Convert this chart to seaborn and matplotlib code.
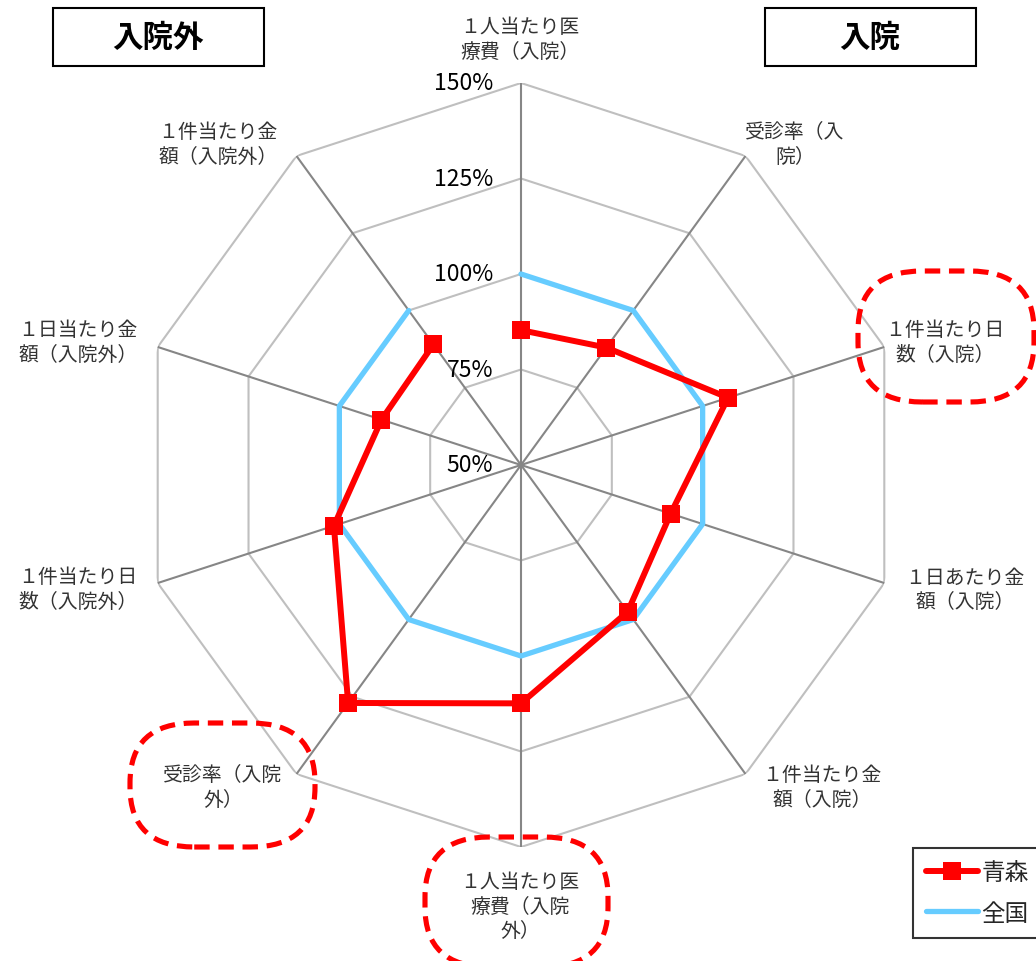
import numpy as np
import pandas as pd
import matplotlib
matplotlib.use("Agg")
import matplotlib.pyplot as plt
from matplotlib.patches import FancyBboxPatch
import seaborn as sns

# 軸ラベル（時計回り、上から）
categories = [
    "１人当たり医\n療費（入院）",
    "受診率（入\n院）",
    "１件当たり日\n数（入院）",
    "１日あたり金\n額（入院）",
    "１件当たり金\n額（入院）",
    "１人当たり医\n療費（入院\n外）",
    "受診率（入院\n外）",
    "１件当たり日\n数（入院外）",
    "１日当たり金\n額（入院外）",
    "１件当たり金\n額（入院外）",
]
aomori = [85.3, 88.0, 107.0, 91.2, 97.5, 112.4, 127.0, 101.5, 88.4, 89.0]
zenkoku = [100, 100, 100, 100, 100, 100, 100, 100, 100, 100]
ring_values = [75, 100, 125, 150]
tick_values = [150, 125, 100, 75, 50]
tick_labels = ["150%", "125%", "100%", "75%", "50%"]

# ラベルの位置（ピクセル）
label_pos = [(520, 40), (795, 145), (945, 343), (965, 590), (822, 788),
             (520, 907), (223, 788), (78, 590), (78, 343), (218, 145)]
highlight = [2, 5, 6]
highlight_box = {2: (858, 272, 176, 131), 5: (425, 838, 183, 130), 6: (130, 724, 185, 124)}

W, H = 1036, 962
sns.set_theme(style="white")
plt.rcParams["font.family"] = ["Noto Sans CJK JP", "DejaVu Sans"]

fig = plt.figure(figsize=(W / 100, H / 100), dpi=100)
cx, cy, R = 521, 466, 382
ax = fig.add_axes([(cx - R) / W, (H - cy - R) / H, 2 * R / W, 2 * R / H],
                  projection="polar")
ax.set_theta_zero_location("N")
ax.set_theta_direction(-1)
ax.set_ylim(50, 150)
ax.grid(False)
ax.set_xticks([])
ax.set_yticks([])
ax.spines["polar"].set_visible(False)
ax.patch.set_alpha(0)

n = len(categories)
theta = np.arange(n) * 2 * np.pi / n
theta_c = np.append(theta, theta[0])

# グリッド
for r in ring_values:
    ax.plot(theta_c, [r] * (n + 1), color="#bfbfbf", lw=1.5, zorder=1)
for t in theta:
    ax.plot([t, t], [50, 150], color="#868686", lw=1.5, zorder=1)

df = pd.DataFrame({
    "theta": np.concatenate([theta_c, theta_c]),
    "value": aomori + [aomori[0]] + zenkoku + [zenkoku[0]],
    "series": ["青森"] * (n + 1) + ["全国"] * (n + 1),
})
sns.lineplot(data=df[df.series == "全国"], x="theta", y="value", sort=False,
             color="#66ccff", lw=3.8, ax=ax, label="全国", zorder=3)
sns.lineplot(data=df[df.series == "青森"], x="theta", y="value", sort=False,
             color="#ff0000", lw=4.3, marker="s", markersize=13,
             markeredgewidth=0, ax=ax, label="青森", zorder=4)
ax.set_xlabel("")
ax.set_ylabel("")
ax.set_ylim(50, 150)

for v, lab in zip(tick_values, tick_labels):
    ax.annotate(lab, xy=(0, v), xytext=(-20, 0), textcoords="offset points",
                ha="right", va="center", fontsize=16.5, color="black", zorder=5,
                annotation_clip=False)

# 軸ラベル
for i, (lab, (px, py)) in enumerate(zip(categories, label_pos)):
    fig.text(px / W, 1 - py / H, lab, ha="center", va="center",
             fontsize=14.3, color="#333333", linespacing=1.2)

# 赤い点線の囲み
for i in highlight:
    x0, y0, w, h = highlight_box[i]
    box = FancyBboxPatch((x0 / W, 1 - (y0 + h) / H), w / W, h / H,
                         boxstyle="round,pad=0,rounding_size=0.062",
                         transform=fig.transFigure, fill=False,
                         edgecolor="#ff0000", lw=3.7, linestyle=(0, (3.0, 1.7)))
    fig.add_artist(box)

# タイトルボックス
for txt, x0 in [("入院外", 53), ("入院", 765)]:
    fig.text((x0 + 105) / W, 1 - 38 / H, txt, ha="center", va="center",
             fontsize=22, fontweight="bold", color="black")
    fig.add_artist(plt.Rectangle((x0 / W, 1 - 67 / H), 211 / W, 58 / H,
                                 transform=fig.transFigure, fill=False,
                                 ec="black", lw=1.5))

# 凡例
handles, labels = ax.get_legend_handles_labels()
order = [labels.index("青森"), labels.index("全国")]
leg = fig.legend([handles[k] for k in order], [labels[k] for k in order],
                 loc="upper left", bbox_to_anchor=(913 / W, 1 - 849 / H),
                 fontsize=17, frameon=True, fancybox=False, edgecolor="black",
                 handlelength=2.2, handletextpad=0.15, labelspacing=0.75,
                 borderpad=0.55, borderaxespad=0)
leg.get_frame().set_linewidth(1.5)
if ax.get_legend():
    ax.get_legend().remove()

fig.savefig("out.png", dpi=100, facecolor="white")
